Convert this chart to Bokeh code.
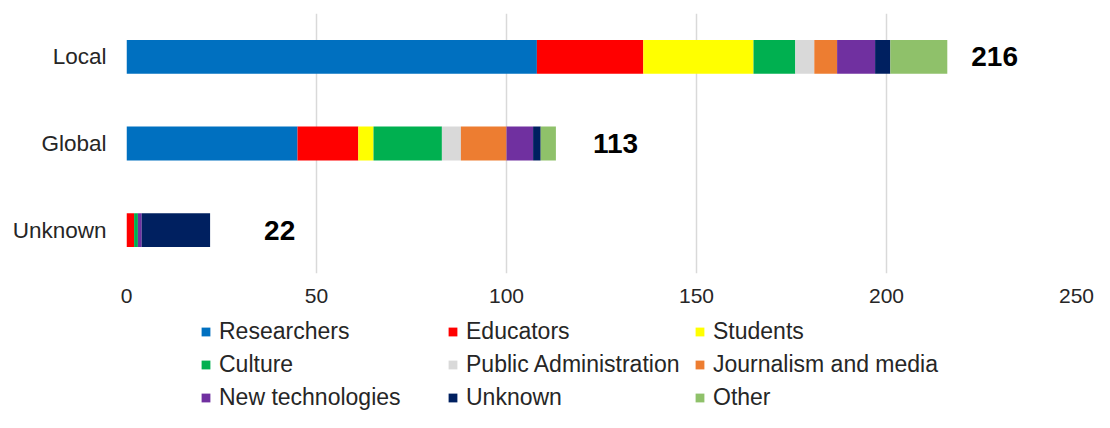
from bokeh.plotting import figure
from bokeh.layouts import column
from bokeh.models import FactorRange, Range1d, Legend, LegendItem, ColumnDataSource
from bokeh.core.properties import value
from bokeh.embed import file_html
from bokeh.resources import INLINE

categories = ["Local", "Global", "Unknown"]
series = ["Researchers", "Educators", "Students", "Culture", "Public Administration",
          "Journalism and media", "New technologies", "Unknown", "Other"]
researchers = [108, 45, 0]
educators = [28, 16, 2]
students = [29, 4, 0]
culture = [11, 18, 1]
public_admin = [5, 5, 0]
journalism = [6, 12, 0]
new_tech = [10, 7, 1]
unknown = [4, 2, 18]
other = [15, 4, 0]
totals = [216, 113, 22]
x_ticks = [0, 50, 100, 150, 200, 250]

colors = ["#0070C0", "#FF0000", "#FFFF00", "#00B050", "#D9D9D9",
          "#ED7D31", "#7030A0", "#002060", "#8FC16A"]

keys = ["s%d" % i for i in range(len(series))]
data = {"cat": categories}
for k, vals in zip(keys, [researchers, educators, students, culture, public_admin,
                          journalism, new_tech, unknown, other]):
    data[k] = vals
source = ColumnDataSource(data)

FONT = "Liberation Sans"

p = figure(width=1094, height=316, output_backend="svg", toolbar_location=None,
           y_range=FactorRange(factors=list(reversed(categories)), range_padding=0),
           x_range=Range1d(0, 250),
           min_border_left=126, min_border_right=18, min_border_top=13, min_border_bottom=43)
p.outline_line_color = None
p.background_fill_color = "white"

renderers = p.hbar_stack(keys, y="cat", height=0.39, color=colors, source=source,
                         line_color=None)

lbl = ColumnDataSource(dict(x=totals, y=categories, t=[str(v) for v in totals],
                            xo=[24, 37, 54]))
p.text(x="x", y="y", text="t", x_offset="xo", source=lbl, text_align="left",
       text_baseline="middle", text_font=value(FONT), text_font_size="28px",
       text_font_style="bold", text_color="black")

p.xaxis.ticker = x_ticks
p.xaxis.axis_line_color = None
p.xaxis.major_tick_line_color = None
p.xaxis.minor_tick_line_color = None
p.xaxis.major_tick_out = 0
p.xaxis.minor_tick_out = 0
p.xaxis.major_label_standoff = 15
p.xaxis.major_label_text_font = FONT
p.xaxis.major_label_text_font_size = "21px"
p.xaxis.major_label_text_color = "#262626"

p.yaxis.axis_line_color = None
p.yaxis.major_tick_line_color = None
p.yaxis.minor_tick_line_color = None
p.yaxis.major_tick_out = 0
p.yaxis.minor_tick_out = 0
p.yaxis.major_label_standoff = 20
p.yaxis.major_label_text_font = FONT
p.yaxis.major_label_text_font_size = "22.5px"
p.yaxis.major_label_text_color = "#262626"

p.ygrid.grid_line_color = None
p.xgrid.grid_line_color = "#D9D9D9"
p.xgrid.grid_line_width = 1.5

# legend strip below the chart (its stack is hidden; only the legend shows)
lp = figure(width=1094, height=96, output_backend="svg", toolbar_location=None,
            x_range=Range1d(0, 250),
            y_range=FactorRange(factors=list(reversed(categories)), range_padding=0),
            x_axis_type=None, y_axis_type=None,
            min_border_left=0, min_border_right=0, min_border_top=0, min_border_bottom=0)
lp.outline_line_color = None
lp.xgrid.grid_line_color = None
lp.ygrid.grid_line_color = None

swatches = lp.hbar_stack(keys, y="cat", height=0.39, color=colors, source=source,
                         line_color=None)
for r in swatches:
    r.visible = False
# items ordered so the column-major grid reads row by row
order = [0, 3, 6, 1, 4, 7, 2, 5, 8]
items = [LegendItem(label=series[i], renderers=[swatches[i]]) for i in order]
legend = Legend(items=items, ncols=3, location=(74, 1),
                label_text_font=FONT, label_text_font_size="23px",
                label_text_color="#262626",
                glyph_width=11, glyph_height=11, label_standoff=8,
                label_width=222, label_height=24, spacing=6, padding=0, margin=0,
                inactive_fill_alpha=0,
                border_line_color=None, background_fill_alpha=0)
lp.add_layout(legend, "center")

layout = column(p, lp, spacing=0)
open("out.html", "w").write(file_html(layout, INLINE))
